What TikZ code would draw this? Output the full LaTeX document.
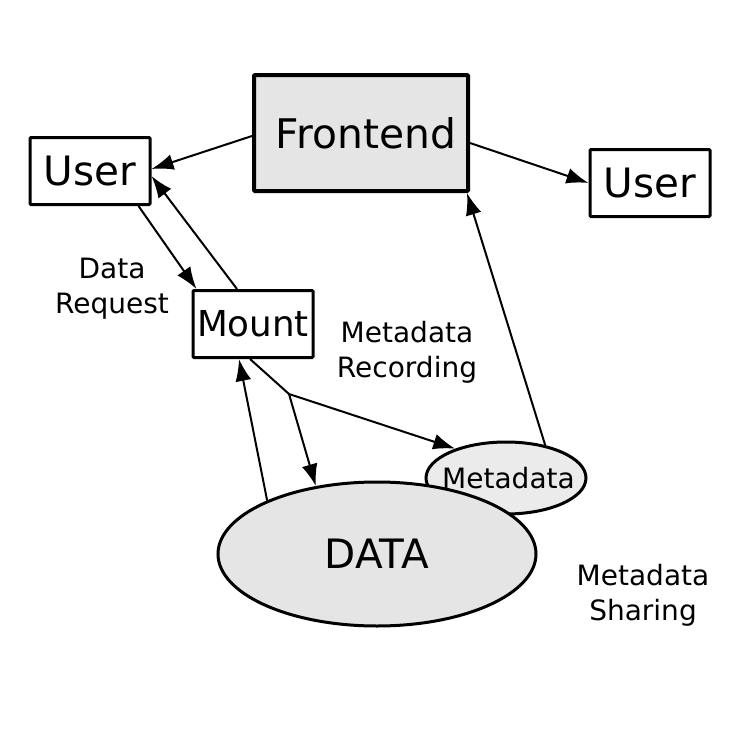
\documentclass[tikz,border=0pt]{standalone}
\usepackage{fontspec}
\setmainfont{DejaVu Sans}
\usetikzlibrary{shapes.geometric,arrows.meta}
\definecolor{boxgray}{HTML}{E5E5E5}
\definecolor{metagray}{HTML}{EBEBEB}
\tikzset{
  block/.style={draw, line width=3pt, rounded corners=1pt, inner sep=0pt,
    minimum width=120pt, minimum height=67pt, font=\fontsize{40.5}{48}\selectfont},
  blob/.style={draw, ellipse, line width=3pt, inner sep=0pt},
  note/.style={align=center, font=\fontsize{28}{35}\selectfont},
  link/.style={line width=2pt, -{Latex[length=22pt,width=16pt]}}
}
\begin{document}
\begin{tikzpicture}[x=1pt, y=-1pt]
    % page
    \fill[white] (0, 0) rectangle (745, 744);

    % Boxes
    \node[block, fill=boxgray, line width=4pt, minimum width=214pt, minimum height=116pt, font=\fontsize{40.8}{49}\selectfont] (front) at (361, 133) {\hspace*{10pt}Frontend};
    \node[block] (userA) at (90, 171) {User};
    \node[block] (userB) at (650, 183) {User};
    \node[block, font=\fontsize{35.7}{43}\selectfont] (mount) at (253, 324) {Mount};

    % Stores
    \node[blob, fill=metagray, minimum width=160pt, minimum height=72pt, inner xsep=-14pt, font=\fontsize{28}{34}\selectfont] (meta) at (506, 478) {\hspace*{5pt}Metadata};
    \node[blob, fill=boxgray, minimum width=318pt, minimum height=144pt, font=\fontsize{40.5}{48}\selectfont] (data) at (377, 554) {DATA};

    % Labels
    \node[note] (lreq) at (112, 289) {Data\\Request};
    \node[note] (lrec) at (407, 352) {Metadata\\Recording};
    \node[note] (lshare) at (643, 595) {Metadata\\Sharing};

    % Connectors
    \draw[link] ([yshift=-3pt]front.west) -- ([yshift=2pt]userA.east);
    \draw[link] ([yshift=-10pt]front.east) -- (userB.west);
    \draw[link] ([xshift=-13pt]userA.south east) -- ([xshift=5pt]mount.north west);
    \draw[link] ([xshift=-16pt]mount.north) -- ([yshift=-5pt]userA.east);
    \draw[link] (data.154) -- ([xshift=-14pt]mount.south);
    \coordinate (split) at (289, 394);
    \draw[line width=2pt] ([xshift=-3pt]mount.south) -- (split);
    \draw[link] (split) -- (data.132);
    \draw[link] (split) -- (meta.150);
    \draw[link] (meta.40) -- ([xshift=-3pt]front.south east);
\end{tikzpicture}
\end{document}
